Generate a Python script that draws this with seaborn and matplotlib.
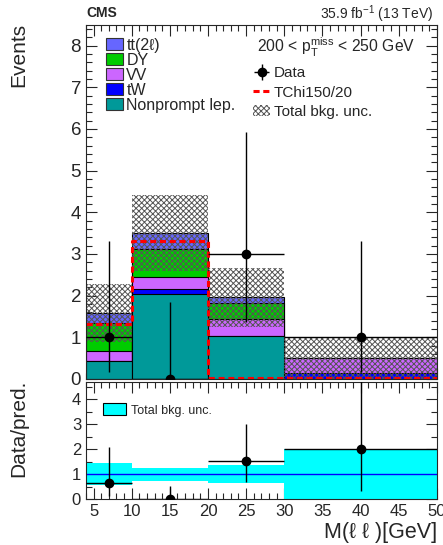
import numpy as np
import matplotlib
matplotlib.use("Agg")
import matplotlib.pyplot as plt
from matplotlib.patches import Patch
from matplotlib.lines import Line2D
from matplotlib.ticker import MultipleLocator
import seaborn as sns

# binning in M(ll) [GeV]
edges = [4, 10, 20, 30, 50]

# background yields per bin
nonprompt = [0.43, 2.04, 1.03, 0.00]
tw = [0.00, 0.12, 0.00, 0.15]
vv = [0.24, 0.28, 0.40, 0.35]
dy = [0.67, 0.68, 0.40, 0.00]
ttbar = [0.24, 0.38, 0.13, 0.00]
bkg_unc = [0.69, 0.91, 0.71, 0.50]

signal = [1.32, 3.30, 0.02, 0.02]

data = [1, 0, 3, 1]
data_lo = [0.83, 0.00, 1.63, 0.83]
data_hi = [2.30, 1.84, 2.92, 2.30]

procs = [
    ("Nonprompt lep.", nonprompt, "#009999"),
    ("tW", tw, "#0000ff"),
    ("VV", vv, "#cc66ff"),
    ("DY", dy, "#00cc00"),
    ("tt(2ℓ)", ttbar, "#6666ff"),
]

sns.set_style("ticks")
plt.rcParams["font.family"] = ["Liberation Sans", "DejaVu Sans"]
plt.rcParams["mathtext.fontset"] = "custom"
plt.rcParams["mathtext.rm"] = "Liberation Sans"
plt.rcParams["mathtext.it"] = "Liberation Sans:italic"
plt.rcParams["hatch.linewidth"] = 0.7

edges_a = np.array(edges, dtype=float)
centers = 0.5 * (edges_a[1:] + edges_a[:-1])
halfw = 0.5 * (edges_a[1:] - edges_a[:-1])
widths = edges_a[1:] - edges_a[:-1]

cum = np.cumsum([p[1] for p in procs], axis=0)
total = cum[-1]
unc = np.array(bkg_unc)

fig = plt.figure(figsize=(4.43, 5.45), dpi=100)
ax = fig.add_axes([0.194, 0.3046, 0.792, 0.650])
rax = fig.add_axes([0.194, 0.0844, 0.792, 0.2147])

# stacked backgrounds: draw cumulative sums from the top down
for i in reversed(range(len(procs))):
    sns.histplot(x=centers, weights=cum[i], bins=edges, element="bars",
                 fill=True, color=procs[i][2], edgecolor="black",
                 linewidth=0.8, alpha=1, ax=ax)

# total background uncertainty (hatched)
ax.bar(edges_a[:-1], 2 * unc, width=widths, bottom=total - unc, align="edge",
       facecolor="none", edgecolor="#555555", hatch="xxxxxx", linewidth=0)

# signal
sns.histplot(x=centers, weights=signal, bins=edges, element="step", fill=False,
             color="red", linestyle=(0, (2, 1.2)), linewidth=2.2, ax=ax)

# data
eb = ax.errorbar(centers, data, xerr=halfw, yerr=[data_lo, data_hi], fmt="o",
                 color="black", ms=6, elinewidth=1, capsize=0, zorder=10)

ax.set_xlim(4, 50)
ax.set_ylim(0, 8.5)
ax.set_xlabel("")
ax.set_ylabel("Events", fontsize=15, loc="top")
ax.yaxis.set_label_coords(-0.165, 1.006)
ax.tick_params(labelbottom=False)

# legends
left_handles = [Patch(facecolor=p[2], edgecolor="#333333", linewidth=0.8, label=p[0])
                for p in reversed(procs)]
leg1 = ax.legend(handles=left_handles, loc="upper left", bbox_to_anchor=(0.04, 0.982),
                 frameon=False, fontsize=11.5, handlelength=1.05, handleheight=0.85,
                 handletextpad=0.2, labelspacing=0.0, borderaxespad=0)
ax.add_artist(leg1)

sig_handle = Line2D([], [], color="red", linestyle=(0, (2, 1.2)), linewidth=2.2)
unc_handle = Patch(facecolor="white", edgecolor="#555555", hatch="xxxxxx", linewidth=0)
ax.legend([eb, sig_handle, unc_handle], ["Data", "TChi150/20", "Total bkg. unc."],
          loc="upper left", bbox_to_anchor=(0.46, 0.9), frameon=False, fontsize=11,
          handlelength=1.1, handletextpad=0.25, labelspacing=0.35, borderaxespad=0)

ax.text(0.487, 0.935, r"200 < $\mathrm{p}_{\mathrm{T}}^{\mathrm{miss}}$ < 250 GeV",
        transform=ax.transAxes, fontsize=11.3, ha="left", va="center")
ax.text(0.0, 1.012, "CMS", transform=ax.transAxes, fontsize=10, fontweight="bold",
        ha="left", va="bottom")
ax.text(0.99, 1.0, r"35.9 fb$^{-1}$ (13 TeV)", transform=ax.transAxes, fontsize=10,
        ha="right", va="bottom")

# ratio panel
rel = unc / total
rax.bar(edges_a[:-1], 2 * rel, width=widths, bottom=1 - rel, align="edge",
        color="#00ffff", linewidth=0)
rax.axhline(1, color="blue", linewidth=1)
ratio = np.array(data) / total
rax.errorbar(centers, ratio, xerr=halfw,
             yerr=[np.array(data_lo) / total, np.array(data_hi) / total],
             fmt="o", color="black", ms=6, elinewidth=1, capsize=0, zorder=10)
rax.legend(handles=[Patch(facecolor="#00ffff", edgecolor="black", linewidth=0.8,
                          label="Total bkg. unc.")],
           loc="upper left", bbox_to_anchor=(0.035, 0.86), frameon=False, fontsize=9,
           handlelength=1.8, handleheight=1.1, handletextpad=0.4, borderaxespad=0)
rax.set_xlim(4, 50)
rax.set_ylim(0, 4.7)
rax.set_xlabel("M(ℓ ℓ )[GeV]", fontsize=15.5, loc="right", labelpad=2)
rax.set_ylabel("Data/pred.", fontsize=15, loc="top")
rax.yaxis.set_label_coords(-0.165, 1.017)

for a in (ax, rax):
    a.xaxis.set_major_locator(MultipleLocator(5))
    a.xaxis.set_minor_locator(MultipleLocator(1))
    a.tick_params(which="both", direction="in", top=True, right=True)
    a.tick_params(which="major", length=8, width=0.8)
    a.tick_params(which="minor", length=4, width=0.8)
    for s in a.spines.values():
        s.set_linewidth(0.8)
ax.tick_params(axis="y", labelsize=13.5)
rax.tick_params(axis="y", labelsize=12)
rax.tick_params(axis="x", labelsize=12)
ax.yaxis.set_major_locator(MultipleLocator(1))
ax.yaxis.set_minor_locator(MultipleLocator(0.2))
rax.yaxis.set_major_locator(MultipleLocator(1))
rax.yaxis.set_minor_locator(MultipleLocator(0.5))

fig.savefig("out.png", dpi=100)
